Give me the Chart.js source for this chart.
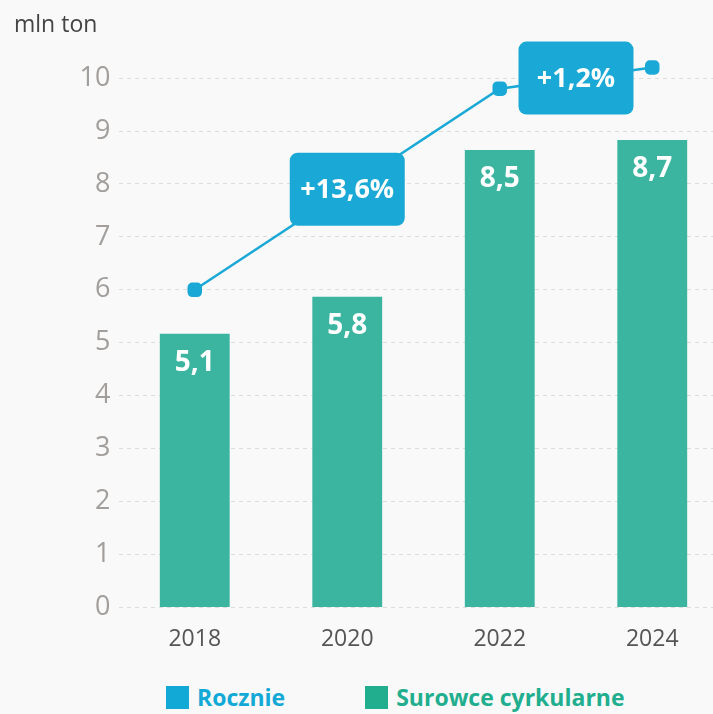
<!DOCTYPE html>
<html>
<head>
<meta charset="utf-8">
<script src="https://cdn.jsdelivr.net/npm/chart.js@4"></script>
<style>
    html, body { margin: 0; padding: 0; background: #f9f9f9; overflow: hidden; }
    #wrap { position: relative; width: 713px; height: 714px; overflow: hidden; font-family: 'Open Sans', sans-serif; }
    #box { position: absolute; left: 0; top: 0; width: 738px; height: 680px; }
    #legend { position: absolute; left: 166px; top: 686px; display: flex; align-items: center; }
    #legend .item { display: flex; align-items: center; margin-right: 80px; font-weight: 700; font-size: 23px; line-height: 23px; }
    #legend .sw { width: 23px; height: 23px; margin-right: 8px; }
</style>
</head>
<body>
<div id="wrap">
    <div id="box"><canvas id="chart-recycling"></canvas></div>
    <div id="legend"></div>
</div>
<script>
var years = ['2018', '2020', '2022', '2024'];
var barValues = [5.17, 5.87, 8.64, 8.83];
var barLabels = ['5,1', '5,8', '8,5', '8,7'];
var lineValues = [6.0, null, 9.8, 10.2];
var growthLabels = ['+13,6%', '+1,2%'];
var growthSpans = [[0, 2], [2, 3]];
var yTicks = [0, 1, 2, 3, 4, 5, 6, 7, 8, 9, 10];

var blue = '#1aa9d6';
var teal = '#3bb5a0';

// labels on bars and the growth boxes
var labelPlugin = {
    id: 'labelPlugin',
    afterDatasetsDraw: function(chart) {
        var ctx = chart.ctx;
        ctx.save();
        ctx.textAlign = 'center';
        ctx.textBaseline = 'middle';
        ctx.fillStyle = '#fff';
        ctx.font = '700 28px "Open Sans"';
        chart.getDatasetMeta(1).data.forEach(function(bar, i) {
            ctx.fillText(barLabels[i], bar.x, bar.y + 29);
        });

        var pts = chart.getDatasetMeta(0).data;
        growthSpans.forEach(function(span, i) {
            var a = pts[span[0]], b = pts[span[1]];
            var cx = (a.x + b.x) / 2, cy = (a.y + b.y) / 2;
            var w = 115, h = 73;
            ctx.fillStyle = blue;
            ctx.beginPath();
            ctx.roundRect(cx - w / 2, cy - h / 2, w, h, 8);
            ctx.fill();
            ctx.fillStyle = '#fff';
            ctx.font = '700 27px "Open Sans"';
            ctx.fillText(growthLabels[i], cx, cy + 1);
        });
        ctx.restore();
    }
};

function chart() {
    var ctx = document.getElementById('chart-recycling');
    var myChart = new Chart(ctx, {
        type: 'bar',
        data: {
            labels: years,
            datasets: [{
                type: 'line',
                label: 'Rocznie',
                data: lineValues,
                spanGaps: true,
                borderColor: blue,
                backgroundColor: blue,
                borderWidth: 2.5,
                pointStyle: 'rectRounded',
                pointRadius: 7,
                pointHoverRadius: 7,
                order: 0
            }, {
                label: 'Surowce cyrkularne',
                data: barValues,
                backgroundColor: teal,
                barPercentage: 0.458,
                categoryPercentage: 1,
                order: 1
            }]
        },
        options: {
            responsive: true,
            maintainAspectRatio: false,
            animation: false,
            layout: { padding: { left: 14, right: 0, top: 0, bottom: 17 } },
            plugins: {
                legend: { display: false },
                tooltip: { enabled: false },
                title: {
                    display: true,
                    text: 'mln ton',
                    align: 'start',
                    color: '#444',
                    font: { family: 'Open Sans', size: 23, weight: 'normal' },
                    padding: { top: 12, bottom: 12 }
                }
            },
            scales: {
                x: {
                    grid: { display: false },
                    border: { display: false },
                    ticks: {
                        color: '#555',
                        padding: 10,
                        font: { family: 'Open Sans', size: 23 }
                    }
                },
                y: {
                    min: 0,
                    max: 10.5,
                    afterBuildTicks: function(axis) {
                        axis.ticks = yTicks.map(function(v) { return { value: v }; });
                    },
                    afterFit: function(axis) {
                        axis.width = 104.5;
                    },
                    grid: { color: '#dcdcdc', lineWidth: 1, drawTicks: false },
                    border: { display: false, dash: [4, 4] },
                    ticks: {
                        color: '#a19e9b',
                        padding: 8,
                        font: { family: 'Open Sans', size: 27 }
                    }
                }
            }
        },
        plugins: [labelPlugin]
    });
    return myChart;
}

var c = chart();

var legend = document.getElementById('legend');
c.data.datasets.forEach(function(ds, i) {
    var col = i === 0 ? '#12a9d6' : '#20ae8e';
    var item = document.createElement('div');
    item.className = 'item';
    item.style.color = col;
    item.innerHTML = '<span class="sw" style="background:' + col + '"></span>' + ds.label;
    legend.appendChild(item);
});
</script>
</body>
</html>
